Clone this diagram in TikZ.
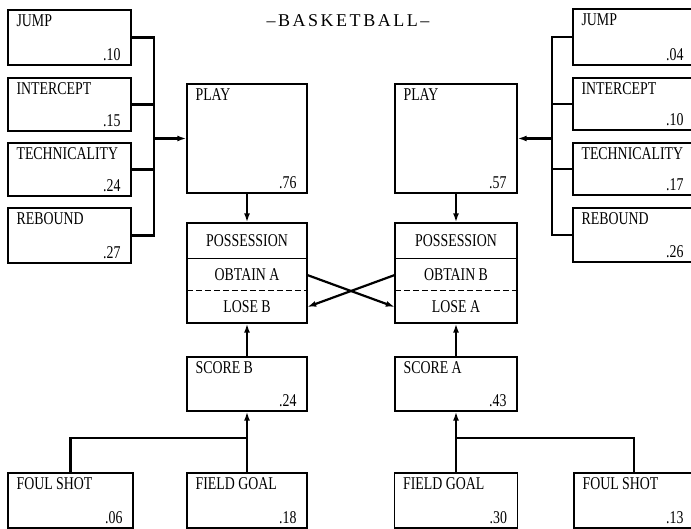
\documentclass[tikz,border=0pt]{standalone}
\usepackage{fontspec}
\setmainfont{Liberation Serif}[FakeStretch=0.77]
\newfontfamily\titlefont{Liberation Serif}[LetterSpace=14]
\usetikzlibrary{arrows.meta}

% box with a label top left and a probability bottom right
\newcommand{\probbox}[7]{%
  \node[pbox,minimum width=#4pt,minimum height=#5pt] (#1) at (#2,#3) {};
  \node[tag,anchor=north west] (#1-lbl) at ([shift={(9,5)}]#1.north west) {#6};
  \node[tag,anchor=base east] (#1-val) at ([shift={(-11,-5)}]#1.south east) {#7};}

\begin{document}
\begin{tikzpicture}[x=1pt,y=-1pt,
  pbox/.style={draw,line width=1.3pt,inner sep=0pt},
  tag/.style={inner sep=0pt,font=\fontsize{18}{20}\selectfont},
  rowbox/.style={inner sep=0pt,minimum height=32pt,font=\fontsize{18}{20}\selectfont},
  conn/.style={line width=2.2pt},
  arr/.style={-{Latex[length=9pt,width=6pt]}}]
\useasboundingbox (0,0) rectangle (691,529);
\node[font=\titlefont\fontsize{18}{20}\selectfont] (title) at (348,21) {–BASKETBALL–};
% left team
\probbox{jumpL}{69.5}{37.5}{123}{55}{JUMP}{.10}
\probbox{intL}{69.5}{104.5}{123}{53}{INTERCEPT}{.15}
\probbox{techL}{69.5}{169.5}{123}{53}{TECHNICALITY}{.24}
\probbox{rebL}{69.5}{235.5}{123}{55}{REBOUND}{.27}
\probbox{playL}{247}{138.5}{120}{109}{PLAY}{.76}
\probbox{scoreB}{247}{384}{120}{54}{SCORE B}{.24}
\probbox{foulB}{70.5}{500.5}{125}{55}{FOUL SHOT}{.06}
\probbox{fieldB}{247}{500.5}{120}{55}{FIELD GOAL}{.18}
\node[pbox,minimum width=120pt,minimum height=100pt] (possL) at (247,273) {};
\node[rowbox,minimum width=120pt,minimum height=36pt] (hdL) at (247,241) {POSSESSION};
\node[rowbox,minimum width=120pt] (obtA) at (247,275) {OBTAIN A};
\node[rowbox,minimum width=120pt] (loseB) at (247,307) {LOSE B};
% right team
\probbox{jumpR}{633.5}{37}{121}{56}{JUMP}{.04}
\probbox{intR}{633.5}{104}{121}{52}{INTERCEPT}{.10}
\probbox{techR}{633.5}{169}{121}{52}{TECHNICALITY}{.17}
\probbox{rebR}{633.5}{235}{121}{54}{REBOUND}{.26}
\probbox{playR}{456}{138.5}{122}{109}{PLAY}{.57}
\probbox{scoreA}{456}{384}{122}{54}{SCORE A}{.43}
\probbox{fieldA}{456}{500.5}{123}{55}{FIELD GOAL}{.30}
\probbox{foulA}{634}{500.5}{120}{55}{FOUL SHOT}{.13}
\node[pbox,minimum width=122pt,minimum height=100pt] (possR) at (456,273) {};
\node[rowbox,minimum width=122pt,minimum height=36pt] (hdR) at (456,241) {POSSESSION};
\node[rowbox,minimum width=122pt] (obtB) at (456,275) {OBTAIN B};
\node[rowbox,minimum width=122pt] (loseA) at (456,307) {LOSE A};
% row dividers
\draw[line width=1.3pt] (obtA.north west) -- (obtA.north east);
\draw[line width=1.1pt,dash pattern=on 6pt off 3pt] (loseB.north west) -- (loseB.north east);
\draw[line width=1.3pt] (obtB.north west) -- (obtB.north east);
\draw[line width=1.1pt,dash pattern=on 6pt off 3pt] (loseA.north west) -- (loseA.north east);
% buses into PLAY
\coordinate (busL) at (154,138.5);
\coordinate (busR) at (552,138.5);
\draw[conn] (jumpL.east) -| (busL);
\draw[conn] (rebL.east) -| (busL);
\draw[conn] (intL.east) -- (intL.east -| busL);
\draw[conn] (techL.east) -- (techL.east -| busL);
\draw[conn,arr] (busL) -- (playL.west);
\draw[conn] (jumpR.west) -| (busR);
\draw[conn] (rebR.west) -| (busR);
\draw[conn] (intR.west) -- (intR.west -| busR);
\draw[conn] (techR.west) -- (techR.west -| busR);
\draw[conn,arr] (busR) -- (playR.east);
% play to possession, exchange of possession
\draw[conn,arr] (playL.south) -- (possL.north);
\draw[conn,arr] (playR.south) -- (possR.north);
\draw[conn,arr] (obtA.east) -- (loseA.west);
\draw[conn,arr] (obtB.west) -- (loseB.east);
% scoring
\draw[conn,arr] (scoreB.north) -- (possL.south);
\draw[conn,arr] (scoreA.north) -- (possR.south);
\coordinate (jB) at (247,438);
\coordinate (jA) at (456,438);
\draw[conn,arr] (fieldB.north) -- (scoreB.south);
\draw[conn] (foulB.north) |- (jB);
\draw[conn,arr] (fieldA.north) -- (scoreA.south);
\draw[conn] (foulA.north) |- (jA);
\end{tikzpicture}
\end{document}
